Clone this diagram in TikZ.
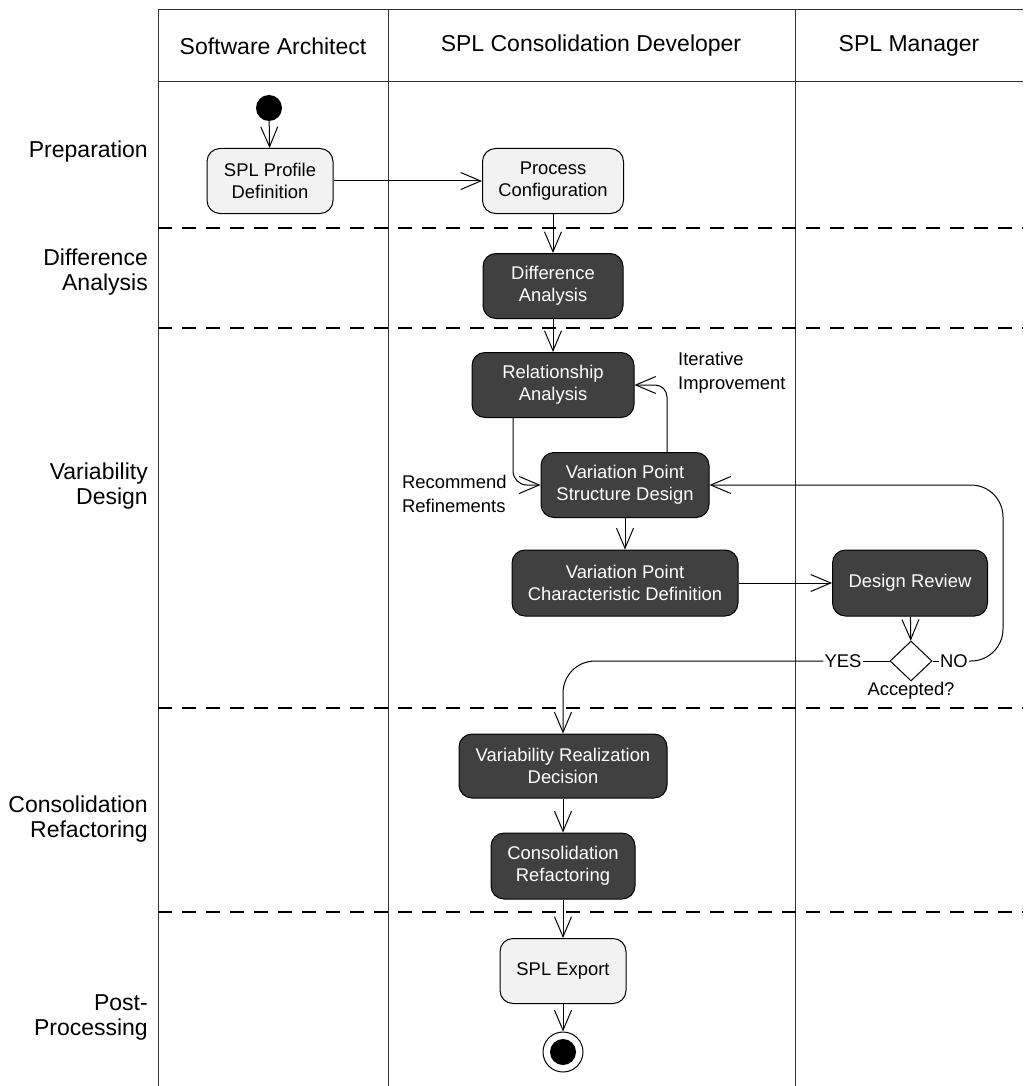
\documentclass[tikz,border=0pt]{standalone}
\usepackage{fontspec}
\setmainfont{Liberation Sans}
\usetikzlibrary{arrows.meta,shapes.geometric,calc}

\definecolor{actdark}{HTML}{404040}
\definecolor{actlight}{HTML}{F2F2F2}

\tikzset{
  x=1pt, y=-1pt,
  grid/.style={line width=1pt, draw=black!80},
  lanesep/.style={line width=1.3pt, dash pattern=on 14pt off 10pt},
  hdr/.style={font=\fontsize{23}{27}\selectfont, inner sep=0pt},
  rowlbl/.style={font=\fontsize{23}{25}\selectfont, align=right, anchor=east, inner sep=0pt},
  act/.style={rectangle, rounded corners=13pt, draw=black, line width=1pt,
    align=center, font=\fontsize{18.4}{22}\selectfont, inner sep=2pt},
  lightact/.style={act, fill=actlight, text=black},
  darkact/.style={act, fill=actdark, text=white},
  lbl/.style={font=\fontsize{18.4}{24}\selectfont, inner sep=1pt},
  flow/.style={line width=1pt, -{Straight Barb[length=20pt, width=17pt, line width=1pt]}},
  plain/.style={line width=1pt},
}

\begin{document}
\begin{tikzpicture}
\useasboundingbox (0,0) rectangle (1023,1086);

% swimlane frame
\draw[grid] (158,1086) -- (158,10) -- (1023,10);
\draw[grid] (158,82) -- (1023,82);
\draw[grid] (388,10) -- (388,1086);
\draw[grid] (795,10) -- (795,1086);

% phase separators
\foreach \yy in {228,328,708,912}
  \draw[lanesep] (158,\yy) -- (1023,\yy);

% lane headers
\node[hdr] (hSA) at (273,46) {Software Architect};
\node[hdr] (hDev) at (591,46) {SPL Consolidation Developer};
\node[hdr] (hMgr) at (909,46) {SPL Manager};

% phase labels
\node[rowlbl] (pPrep) at (148,152) {Preparation};
\node[rowlbl] (pDiff) at (148,272) {Difference\\Analysis};
\node[rowlbl] (pVar) at (148,486) {Variability\\Design};
\node[rowlbl] (pCons) at (148,819) {Consolidation\\Refactoring};
\node[rowlbl] (pPost) at (148,1017) {Post-\\Processing};

% activities
\node[circle, fill=black, minimum size=26pt, inner sep=0pt] (start) at (269,108) {};
\node[lightact, minimum width=126pt, minimum height=65pt] (spd) at (270,181) {SPL Profile\\Definition};
\node[lightact, minimum width=141pt, minimum height=65pt] (pc) at (553,181) {Process\\Configuration};
\node[darkact, minimum width=140pt, minimum height=65pt] (da) at (553,286) {Difference\\Analysis};
\node[darkact, minimum width=162pt, minimum height=65pt] (ra) at (553,385) {Relationship\\Analysis};
\node[darkact, minimum width=168pt, minimum height=65pt] (vpsd) at (625,485) {Variation Point\\Structure Design};
\node[darkact, minimum width=226pt, minimum height=66pt] (vpcd) at (625,583) {Variation Point\\Characteristic Definition};
\node[darkact, minimum width=155pt, minimum height=66pt] (dr) at (910,583) {Design Review};
\node[diamond, draw=black, line width=1pt, minimum width=42pt, minimum height=40pt, inner sep=0pt] (dec) at (911,661) {};
\node[lbl, anchor=north] (acc) at (911,681) {Accepted?};
\node[lbl] (yes) at (843,661) {YES};
\node[lbl] (no) at (954,661) {NO};
\node[darkact, minimum width=208pt, minimum height=64pt] (vrd) at (563,766) {Variability Realization\\Decision};
\node[darkact, minimum width=144pt, minimum height=66pt] (cr) at (563,866) {Consolidation\\Refactoring};
\node[lightact, minimum width=126pt, minimum height=65pt] (exp) at (563,971) {SPL Export};
\node[circle, draw=black, line width=1pt, fill=white, minimum size=40pt, inner sep=0pt] (end) at (563,1052) {};
\fill[black] (end.center) circle (13);

% loop labels
\node[lbl, anchor=west, align=left] (iter) at (677,373) {Iterative\\Improvement};
\node[lbl, anchor=west, align=left] (rec) at (401,494) {Recommend\\Refinements};

% control flow
\draw[flow] (start) -- (spd);
\draw[flow] (spd) -- (pc);
\draw[flow] (pc) -- (da);
\draw[flow] (da) -- (ra);
\draw[flow, rounded corners=14pt] ([xshift=-40pt]ra.south) |- (vpsd.west);
\draw[flow, rounded corners=12pt] ([xshift=42pt]vpsd.north) |- (ra.east);
\draw[flow] (vpsd) -- (vpcd);
\draw[flow] (vpcd) -- (dr);
\draw[flow] (dr) -- (dec);
\draw[plain] (dec.west) -- (yes.east);
\draw[plain] (dec.east) -- (no.west);
\coordinate (loopR) at (1003,573);
\draw[flow, rounded corners=32pt] (no.east) -| (loopR) |- (vpsd.east);
\draw[flow, rounded corners=32pt] (yes.west) -| (vrd.north);
\draw[flow] (vrd) -- (cr);
\draw[flow] (cr) -- (exp);
\draw[flow] (exp) -- (end);
\end{tikzpicture}
\end{document}
